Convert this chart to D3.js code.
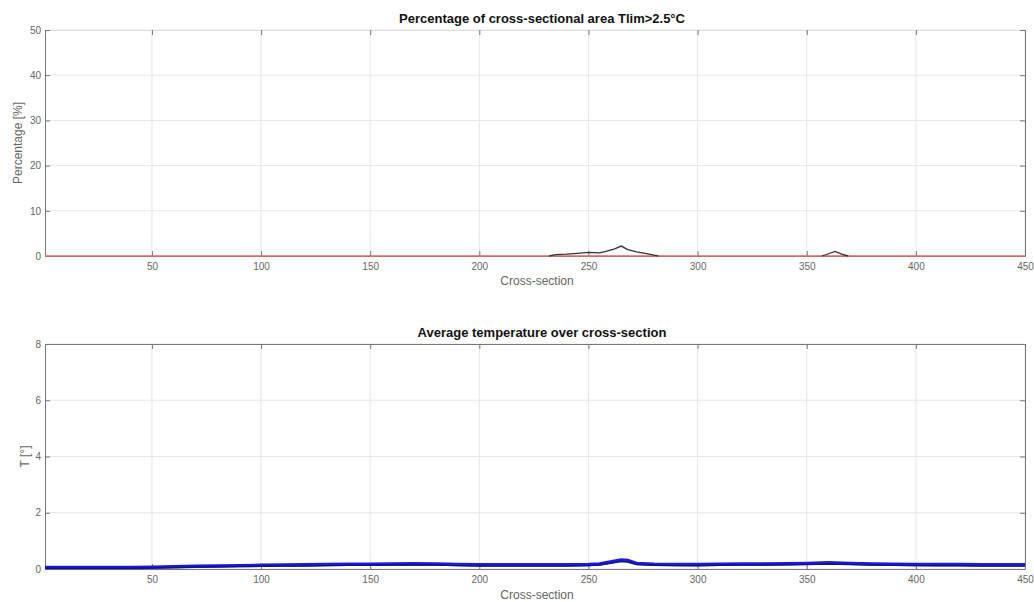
<!DOCTYPE html>
<html>
<head>
<meta charset="utf-8">
<script src="https://cdn.jsdelivr.net/npm/d3@7"></script>
<style>
  body { margin: 0; background: #fff; }
  svg { display: block; font-family: "Liberation Sans", Arial, sans-serif; }
  .grid line { stroke: #e6e6e6; stroke-width: 1; }
  .tick text { fill: #666; font-size: 10px; }
</style>
</head>
<body>
<svg id="chart" width="1034" height="602"></svg>
<script>
// cross-section ticks shared by both panels
var xTicks = [50, 100, 150, 200, 250, 300, 350, 400, 450];

// top panel: percentage of area above Tlim
var pctX = [232, 235, 240, 245, 250, 255, 258, 262, 265, 268, 272, 276, 280, 282];
var pctY = [0, 0.3, 0.4, 0.6, 0.8, 0.7, 1.0, 1.6, 2.2, 1.4, 0.9, 0.6, 0.2, 0];
var pct2X = [357, 360, 363, 366, 369];
var pct2Y = [0, 0.5, 1.0, 0.4, 0];
// red reference line at zero
var refX = [1, 450];
var refY = [0, 0];
var pctTicks = [0, 10, 20, 30, 40, 50];

// bottom panel: average temperature
var tempX = [1, 10, 20, 30, 40, 50, 60, 70, 80, 90, 100, 110, 120, 130, 140, 150, 160, 170, 180, 190, 200,
  210, 220, 230, 240, 250, 255, 260, 265, 268, 272, 280, 290, 300, 310, 320, 330, 340, 350, 360, 370,
  380, 390, 400, 410, 420, 430, 440, 450];
var tempY = [0.05, 0.05, 0.05, 0.05, 0.05, 0.06, 0.08, 0.10, 0.11, 0.12, 0.13, 0.14, 0.15, 0.16, 0.17, 0.17, 0.18, 0.19, 0.18, 0.16, 0.15,
  0.15, 0.15, 0.15, 0.15, 0.16, 0.18, 0.25, 0.32, 0.30, 0.20, 0.17, 0.16, 0.16, 0.17, 0.18, 0.18, 0.19, 0.20, 0.22, 0.20,
  0.18, 0.17, 0.16, 0.16, 0.16, 0.15, 0.15, 0.15];
var tempLow = [0.03, 0.03, 0.03, 0.03, 0.03, 0.04, 0.05, 0.07, 0.08, 0.09, 0.10, 0.11, 0.11, 0.12, 0.13, 0.13, 0.14, 0.15, 0.14, 0.12, 0.11,
  0.11, 0.11, 0.11, 0.11, 0.12, 0.14, 0.20, 0.27, 0.25, 0.16, 0.13, 0.12, 0.12, 0.13, 0.14, 0.14, 0.15, 0.16, 0.18, 0.16,
  0.14, 0.13, 0.12, 0.12, 0.12, 0.11, 0.11, 0.11];
var tempTicks = [0, 2, 4, 6, 8];

var svg = d3.select("#chart");
var left = 45, right = 1025;

function panel(opts) {
  var x = d3.scaleLinear().domain([1, 450]).range([left, right]);
  var y = d3.scaleLinear().domain(opts.ydomain).range([opts.bottom, opts.top]);
  var g = svg.append("g");

  // grid
  g.append("g").attr("class", "grid")
    .selectAll("line").data(xTicks).enter().append("line")
    .attr("x1", x).attr("x2", x).attr("y1", opts.top).attr("y2", opts.bottom);
  g.append("g").attr("class", "grid")
    .selectAll("line").data(opts.yticks).enter().append("line")
    .attr("x1", left).attr("x2", right).attr("y1", y).attr("y2", y);

  // axes, inward ticks like matlab
  function grey(a, dom) {
    a.select(".domain").attr("stroke", dom || "#777");
    a.selectAll(".tick line").attr("stroke", "#777");
  }
  g.append("g").attr("transform", "translate(0," + opts.bottom + ")")
    .call(d3.axisBottom(x).tickValues(xTicks).tickSizeInner(-5).tickSizeOuter(0).tickPadding(7))
    .call(grey);
  g.append("g").attr("transform", "translate(0," + opts.top + ")")
    .call(d3.axisTop(x).tickValues(xTicks).tickSizeInner(-5).tickSizeOuter(0).tickFormat(""))
    .call(grey, opts.topStroke);
  g.append("g").attr("transform", "translate(" + left + ",0)")
    .call(d3.axisLeft(y).tickValues(opts.yticks).tickSizeInner(-5).tickSizeOuter(0).tickPadding(4))
    .call(grey);
  g.append("g").attr("transform", "translate(" + right + ",0)")
    .call(d3.axisRight(y).tickValues(opts.yticks).tickSizeInner(-5).tickSizeOuter(0).tickFormat(""))
    .call(grey);

  // titles
  svg.append("text").attr("x", 542).attr("y", opts.top - 7)
    .attr("text-anchor", "middle").attr("font-size", "13px").attr("font-weight", "bold")
    .attr("fill", "#111").text(opts.title);
  svg.append("text").attr("x", 537).attr("y", opts.bottom + opts.xlabelDy)
    .attr("text-anchor", "middle").attr("font-size", "12px").attr("fill", "#666").text("Cross-section");
  svg.append("text")
    .attr("transform", "translate(" + opts.ylabelX + "," + ((opts.top + opts.bottom) / 2) + ") rotate(-90)")
    .attr("text-anchor", "middle").attr("font-size", "12px").attr("fill", "#666").text(opts.ylabel);

  return { x: x, y: y, g: g };
}

// top panel
var p1 = panel({ top: 30, bottom: 256, ydomain: [0, 50], yticks: pctTicks, topStroke: "#ddd", xlabelDy: 29,
  title: "Percentage of cross-sectional area Tlim>2.5\u00b0C", ylabel: "Percentage [%]", ylabelX: 22 });
var line1 = d3.line().x(function (d) { return p1.x(d[0]); }).y(function (d) { return p1.y(d[1]); });
p1.g.append("path").datum(d3.zip(refX, refY))
  .attr("d", line1).attr("fill", "none").attr("stroke", "#e06a6a").attr("stroke-width", 1.6);
[d3.zip(pctX, pctY), d3.zip(pct2X, pct2Y)].forEach(function (pts) {
  p1.g.append("path").datum(pts)
    .attr("d", line1).attr("fill", "none").attr("stroke", "#333").attr("stroke-width", 1.3);
});

// bottom panel
var p2 = panel({ top: 344, bottom: 569, ydomain: [0, 8], yticks: tempTicks, topStroke: "#777", xlabelDy: 30,
  title: "Average temperature over cross-section", ylabel: "T [\u00b0]", ylabelX: 29 });
var line2 = d3.line().x(function (d) { return p2.x(d[0]); }).y(function (d) { return p2.y(d[1]); });
p2.g.append("path").datum(d3.zip(tempX, tempY))
  .attr("d", line2).attr("fill", "none").attr("stroke", "#1c1cd8").attr("stroke-width", 3.5);
p2.g.append("path").datum(d3.zip(tempX, tempLow))
  .attr("d", line2).attr("fill", "none").attr("stroke", "#10108a").attr("stroke-width", 1.5);
</script>
</body>
</html>
